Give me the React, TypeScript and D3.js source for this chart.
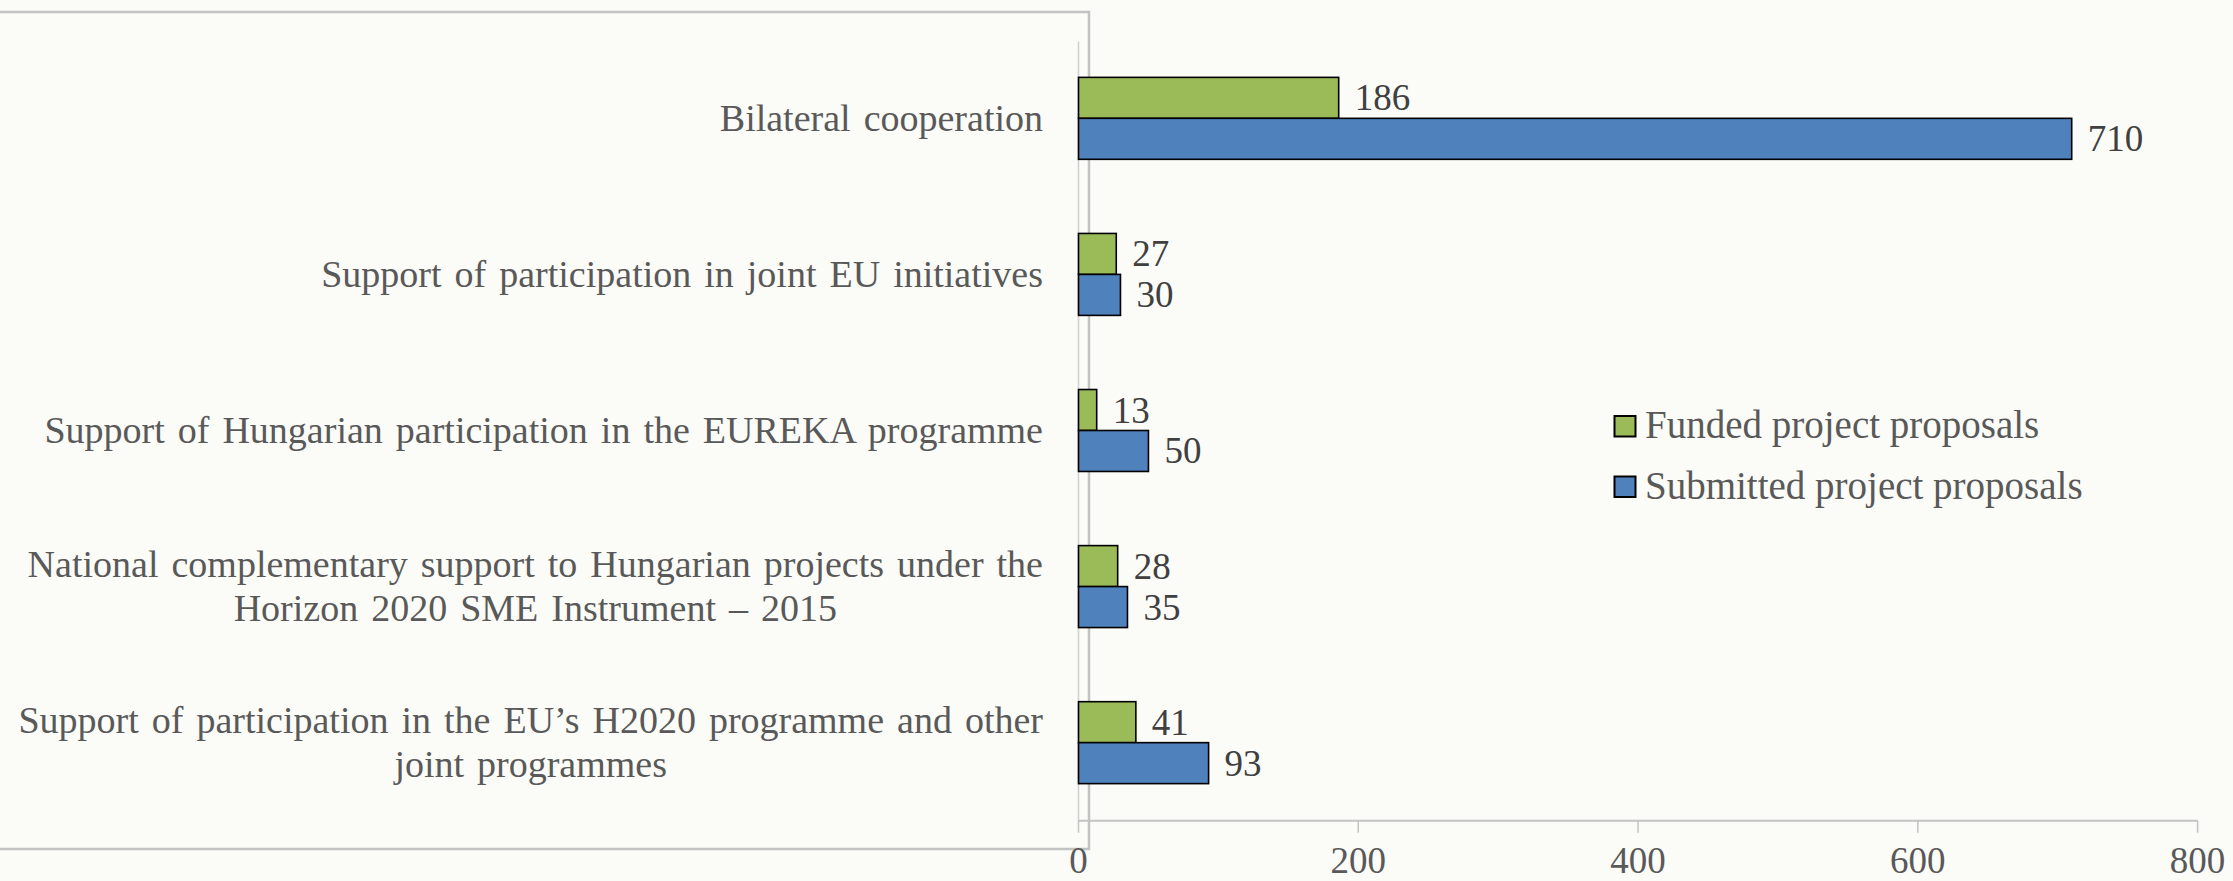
import React, { useMemo } from "react";
import * as d3 from "d3";

const categories = [
  "Bilateral cooperation",
  "Support of participation in joint EU initiatives",
  "Support of Hungarian participation in the EUREKA programme",
  "National complementary support to Hungarian projects under the Horizon 2020 SME Instrument – 2015",
  "Support of participation in the EU’s H2020 programme and other joint programmes",
];
const categoryLines = [
  ["Bilateral cooperation"],
  ["Support of participation in joint EU initiatives"],
  ["Support of Hungarian participation in the EUREKA programme"],
  ["National complementary support to Hungarian projects under the", "Horizon 2020 SME Instrument – 2015"],
  ["Support of participation in the EU’s H2020 programme and other", "joint programmes"],
];
const funded = [186, 27, 13, 28, 41];
const submitted = [710, 30, 50, 35, 93];
const xTicks = [0, 200, 400, 600, 800];
const seriesNames = ["Funded project proposals", "Submitted project proposals"];
const seriesColors = ["#9BBB59", "#4F81BD"];

const W = 2233;
const H = 881;
const FONT = "'Liberation Serif', 'Times New Roman', serif";
const LABEL_SIZE = 38;
const WORD_SPACING = 3.5;
const NUM_SIZE = 37;

function measure(text: string, size: number): number {
  const c = document.createElement("canvas");
  const ctx = c.getContext("2d");
  const spaces = (text.match(/ /g) || []).length;
  if (!ctx) return text.length * size * 0.45 + spaces * WORD_SPACING;
  ctx.font = `${size}px ${FONT}`;
  return ctx.measureText(text).width + spaces * WORD_SPACING;
}

export default function App() {
  const x = d3.scaleLinear().domain([0, 800]).range([1078.5, 2197.6]);
  const y = d3
    .scaleBand<string>()
    .domain(categories)
    .range([40.3, 820.7])
    .paddingInner(0.475)
    .paddingOuter(0.2375);
  const bh = y.bandwidth() / 2;
  const labelRight = 1043;

  const labelWidths = useMemo(
    () => categoryLines.map((lines) => Math.max(...lines.map((l) => measure(l, LABEL_SIZE)))),
    []
  );

  const axisY = 820.7;

  return (
    <svg
      width={W}
      height={H}
      style={{ position: "fixed", left: 0, top: 0, background: "#FBFBF7" }}
      fontFamily={FONT}
    >
      <rect x={0} y={0} width={W} height={H} fill="#FBFBF7" />
      {/* panel border */}
      <rect x={-3} y={12} width={1092} height={837} fill="none" stroke="#C3C3C3" strokeWidth={2.5} />

      {/* y axis line */}
      <line x1={x(0)} x2={x(0)} y1={41.5} y2={axisY} stroke="#CFCFCF" strokeWidth={1.5} />

      {/* x axis */}
      <line x1={x(0)} x2={x(800)} y1={axisY} y2={axisY} stroke="#C3C3C3" strokeWidth={2} />
      {xTicks.map((t) => (
        <g key={t}>
          <line x1={x(t)} x2={x(t)} y1={axisY} y2={axisY + 12} stroke="#C3C3C3" strokeWidth={1.5} />
          <text x={x(t)} y={873} textAnchor="middle" fontSize={NUM_SIZE} fill="#595959">
            {t}
          </text>
        </g>
      ))}

      {/* bars */}
      {categories.map((c, i) => {
        const y0 = y(c) as number;
        const vals = [funded[i], submitted[i]];
        return (
          <g key={c}>
            {vals.map((v, j) => (
              <g key={j}>
                <rect
                  x={x(0)}
                  y={y0 + j * bh}
                  width={x(v) - x(0)}
                  height={bh}
                  fill={seriesColors[j]}
                  stroke="#000"
                  strokeWidth={1.6}
                />
                <text
                  x={x(v) + 16}
                  y={y0 + j * bh + bh / 2 + 12.5}
                  fontSize={NUM_SIZE}
                  fill="#404040"
                >
                  {v}
                </text>
              </g>
            ))}
          </g>
        );
      })}

      {/* category labels */}
      {categoryLines.map((lines, i) => {
        const cy = (y(categories[i]) as number) + y.bandwidth() / 2;
        const n = lines.length;
        const lh = 44;
        const cx = labelRight - labelWidths[i] / 2;
        return (
          <g key={i}>
            {lines.map((l, k) => (
              <text
                key={k}
                x={n === 1 ? labelRight : cx}
                y={cy + 12.4 + (k - (n - 1) / 2) * lh}
                textAnchor={n === 1 ? "end" : "middle"}
                fontSize={LABEL_SIZE}
                wordSpacing={WORD_SPACING}
                fill="#595959"
              >
                {l}
              </text>
            ))}
          </g>
        );
      })}

      {/* legend */}
      {seriesNames.map((s, i) => (
        <g key={s}>
          <rect
            x={1614.5}
            y={416 + i * 60.5}
            width={21}
            height={20.5}
            fill={seriesColors[i]}
            stroke="#000"
            strokeWidth={2}
          />
          <text x={1645} y={438 + i * 60.5} fontSize={39} fill="#595959">
            {s}
          </text>
        </g>
      ))}
    </svg>
  );
}
